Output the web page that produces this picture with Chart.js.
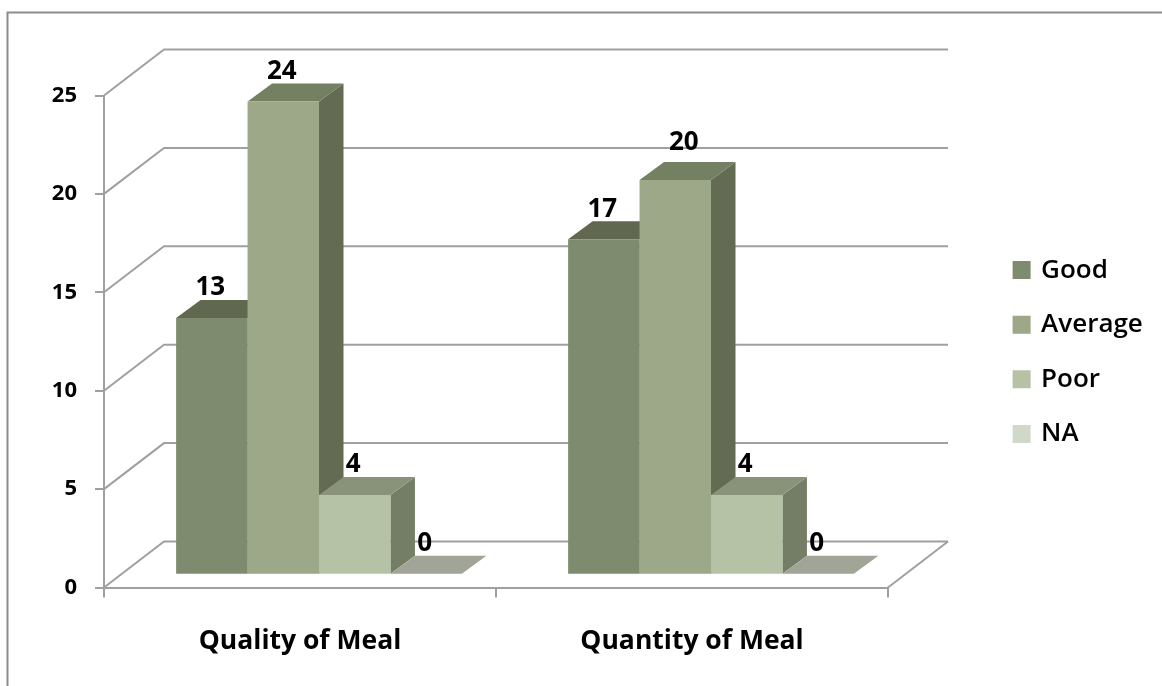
<!DOCTYPE html>
<html>
<head>
<meta charset="utf-8">
<title>Meal survey</title>
<script src="https://cdn.jsdelivr.net/npm/chart.js@4"></script>
<style>
  html, body { margin: 0; padding: 0; background: #fff; }
  canvas { display: block; }
</style>
</head>
<body>
<canvas id="chart" width="1162" height="686"></canvas>
<script>
const categories = ["Quality of Meal", "Quantity of Meal"];
const seriesNames = ["Good", "Average", "Poor", "NA"];
const good = [13, 17];
const average = [24, 20];
const poor = [4, 4];
const na = [0, 0];
const yTicks = [0, 5, 10, 15, 20, 25];

const frontColors = ["#7f8b6e", "#9ca887", "#b5c2a6", "#d0d8c8"];
const topColors = ["#60684f", "#748062", "#89937a", "#a0a598"];
const sideColors = ["#636b53", "#636b53", "#747d66", "#8a907f"];

const FONT = "'Open Sans', sans-serif";
const LINE = "#a0a0a0";

// oblique offset of the back wall, and of the bar depth
const WALL_DX = 60;
const WALL_DY = 46;
const BAR_DX = 24.5;
const BAR_DY = 18;
const BAR_SHIFT = 19;

/* ---------------- 3D PARTS ---------------- */

function poly(ctx, color, pts) {
  ctx.fillStyle = color;
  ctx.beginPath();
  pts.forEach((p, i) => (i ? ctx.lineTo(p[0], p[1]) : ctx.moveTo(p[0], p[1])));
  ctx.closePath();
  ctx.fill();
}

const walls = {
  id: "walls",
  beforeDraw(chart) {
    const { ctx, chartArea } = chart;
    const y = chart.scales.y;
    const r = chartArea.right;
    const l = chartArea.left;

    ctx.save();
    // outer frame
    ctx.strokeStyle = "#8c8c8c";
    ctx.lineWidth = 2;
    ctx.beginPath();
    ctx.moveTo(7.5, 686);
    ctx.lineTo(7.5, 12.5);
    ctx.lineTo(1162, 12.5);
    ctx.stroke();

    ctx.strokeStyle = LINE;
    yTicks.forEach((t) => {
      const py = y.getPixelForValue(t);
      ctx.beginPath();
      ctx.moveTo(l, py);
      ctx.lineTo(l + WALL_DX, py - WALL_DY);
      ctx.lineTo(r + WALL_DX, py - WALL_DY);
      ctx.stroke();
    });
    const py0 = y.getPixelForValue(0);
    ctx.beginPath();
    ctx.moveTo(r, py0);
    ctx.lineTo(r + WALL_DX, py0 - WALL_DY);
    ctx.stroke();
    ctx.restore();
  },
};

const bars3d = {
  id: "bars3d",
  // chart.js paints the last dataset first, the depth faces need left to right
  beforeDatasetsDraw(chart) {
    const { ctx } = chart;
    chart.data.datasets.forEach((ds, i) => {
      const meta = chart.getDatasetMeta(i);
      ctx.save();
      ctx.translate(BAR_SHIFT, 0);
      meta.data.forEach((bar) => {
        const l = bar.x - bar.width / 2;
        const r = bar.x + bar.width / 2;
        const t = bar.y;
        const b = bar.base;
        poly(ctx, sideColors[i], [[r, t], [r + BAR_DX, t - BAR_DY], [r + BAR_DX, b - BAR_DY], [r, b]]);
        poly(ctx, topColors[i], [[l, t], [l + BAR_DX, t - BAR_DY], [r + BAR_DX, t - BAR_DY], [r, t]]);
      });
      meta.controller.draw();
      ctx.restore();
    });

    ctx.save();
    ctx.fillStyle = "#000";
    ctx.font = "bold 26px " + FONT;
    ctx.textAlign = "center";
    ctx.textBaseline = "middle";
    chart.data.datasets.forEach((ds, i) => {
      chart.getDatasetMeta(i).data.forEach((bar, j) => {
        // the "20" label sits up and to the right in the original
        const moved = i === 1 && j === 1;
        const x = bar.x + BAR_SHIFT - 1.5 + (moved ? 10 : 0);
        const y = bar.y - 30 - (moved ? 8 : 0);
        ctx.fillText(String(ds.data[j]), x, y);
      });
    });
    ctx.restore();
    return false;
  },
  afterLayout(chart) {
    // legend sits right of the back wall
    const lg = chart.legend;
    lg.left = 986.5;
    lg.right = 1162;
    lg.top = 228.5;
    lg.bottom = 686;
  },
};

/* ---------------- CHART ---------------- */

const allSeries = [good, average, poor, na];

new Chart(document.getElementById("chart"), {
  type: "bar",
  data: {
    labels: categories,
    datasets: allSeries.map((values, i) => ({
      label: seriesNames[i],
      data: values,
      yAxisID: "yBars",
      backgroundColor: frontColors[i],
      borderWidth: 0,
      categoryPercentage: 0.729,
      barPercentage: 1,
    })),
  },
  plugins: [walls, bars3d],
  options: {
    responsive: false,
    animation: false,
    layout: { padding: { top: 95.5, right: 274, bottom: 0, left: 0 } },
    plugins: {
      tooltip: { enabled: false },
      legend: {
        position: "chartArea",
        align: "start",
        labels: {
          boxWidth: 13,
          boxHeight: 13,
          padding: 28.6,
          color: "#000",
          font: { family: FONT, size: 26, weight: "600" },
          generateLabels(chart) {
            return Chart.defaults.plugins.legend.labels
              .generateLabels(chart)
              .map((item) => ({ ...item, strokeStyle: item.fillStyle, lineWidth: 5 }));
          },
        },
      },
    },
    scales: {
      x: {
        afterFit(s) { s.height = 98.5; },
        border: { color: LINE, width: 2 },
        grid: { offset: true, drawOnChartArea: false, color: LINE, lineWidth: 2, tickLength: 10 },
        ticks: { color: "#000", padding: 28, font: { family: FONT, size: 26.5, weight: "bold" } },
      },
      y: {
        min: 0,
        max: 25,
        afterFit(s) { s.width = 104; },
        afterBuildTicks(s) { s.ticks = yTicks.map((v) => ({ value: v })); },
        border: { color: LINE, width: 2 },
        grid: { drawOnChartArea: false, color: LINE, lineWidth: 2, tickLength: 9 },
        ticks: { color: "#000", padding: 18, font: { family: FONT, size: 22, weight: "bold" } },
      },
      // bars stand a little in front of the wall, so their zero is higher up
      yBars: { display: false, min: -0.7, max: 24.3 },
    },
  },
});
</script>
</body>
</html>
